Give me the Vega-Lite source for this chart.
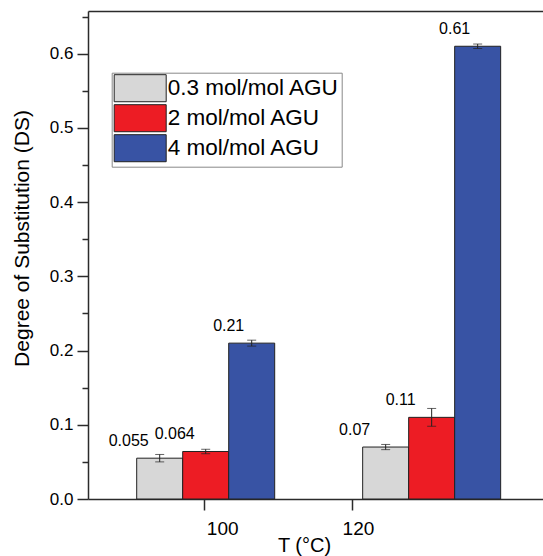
{
  "$schema": "https://vega.github.io/schema/vega-lite/v6.json",
  "width": 455,
  "height": 488,
  "autosize": {"type": "none"},
  "padding": {"left": 88, "top": 11, "right": 0, "bottom": 57},
  "background": "white",
  "config": {
    "view": {"stroke": null},
    "font": "Liberation Sans",
    "axis": {"labelFont": "Liberation Sans", "titleFont": "Liberation Sans", "labelColor": "black", "titleColor": "black", "titleFontWeight": "normal", "domainColor": "#2b2b2b", "tickColor": "#2b2b2b", "domainWidth": 1.5, "tickWidth": 1.5, "grid": false}
  },
  "data": {
    "values": [
      {"T": 100.2, "series": "0.3 mol/mol AGU", "DS": 0.055, "err": 0.005},
      {"T": 100.2, "series": "2 mol/mol AGU", "DS": 0.064, "err": 0.003},
      {"T": 100.2, "series": "4 mol/mol AGU", "DS": 0.21, "err": 0.004},
      {"T": 130.8, "series": "0.3 mol/mol AGU", "DS": 0.07, "err": 0.0035},
      {"T": 130.8, "series": "2 mol/mol AGU", "DS": 0.11, "err": 0.012},
      {"T": 130.8, "series": "4 mol/mol AGU", "DS": 0.61, "err": 0.003}
    ]
  },
  "transform": [
    {"calculate": "datum.DS - datum.err", "as": "lo"},
    {"calculate": "datum.DS + datum.err", "as": "hi"}
  ],
  "layer": [
    {
      "mark": {"type": "bar", "width": 46, "stroke": "#222", "strokeWidth": 1, "xOffset": {"expr": "(indexof(['0.3 mol/mol AGU','2 mol/mol AGU','4 mol/mol AGU'], datum.series) - 1) * 46"}},
      "encoding": {
        "x": {"field": "T", "type": "quantitative", "scale": {"domain": [84.94, 145.2], "nice": false, "zero": false},
          "axis": {"values": [100, 120], "title": "T (°C)", "titleFontSize": 20, "titleX": 216, "titleY": 52, "titleBaseline": "alphabetic", "labelFontSize": 19, "tickSize": 11, "labelPadding": 9, "labelFlush": false,
            "labelOffset": {"condition": {"test": "datum.value === 100", "value": 18}, "value": 6}}},
        "y": {"field": "DS", "type": "quantitative", "stack": null, "scale": {"domain": [0, 0.6575], "nice": false},
          "axis": {"values": [0, 0.1, 0.2, 0.3, 0.4, 0.5, 0.6], "format": ".1f", "title": "Degree of Substitution (DS)", "titleFontSize": 21, "titleX": -66, "titleY": 227, "titleAngle": -90, "titleBaseline": "middle", "titleAlign": "center", "labelFontSize": 17, "tickSize": 11, "labelPadding": 4}},
        "color": {"field": "series", "type": "nominal", "sort": ["0.3 mol/mol AGU", "2 mol/mol AGU", "4 mol/mol AGU"],
          "scale": {"domain": ["0.3 mol/mol AGU", "2 mol/mol AGU", "4 mol/mol AGU"], "range": ["#d7d7d7", "#ed1c24", "#3853a4"]},
          "legend": {"title": null, "orient": "none", "legendX": 23.7, "legendY": 61.7, "symbolType": "M-2,-1.04H2V1.04H-2Z", "symbolSize": 676, "symbolOffset": 13, "symbolStrokeColor": "#222", "symbolStrokeWidth": 1, "symbolOpacity": 1, "labelFont": "Liberation Sans", "labelFontSize": 22.5, "labelColor": "black", "labelOffset": 14, "rowPadding": -12, "padding": 2, "strokeColor": "#888", "fillColor": "white", "labelLimit": 400}}
      }
    },
    {
      "mark": {"type": "rule", "color": "#222", "strokeWidth": 1, "xOffset": {"expr": "(indexof(['0.3 mol/mol AGU','2 mol/mol AGU','4 mol/mol AGU'], datum.series) - 1) * 46"}},
      "encoding": {
        "y": {"field": "lo", "type": "quantitative", "scale": {"domain": [0, 0.6575], "nice": false},
          "axis": {"orient": "left", "values": [0.05, 0.15, 0.25, 0.35, 0.45, 0.55, 0.65], "labels": false, "title": null, "domain": false, "tickSize": 6}},
        "y2": {"field": "hi"},
        "x": {"field": "T", "type": "quantitative", "scale": {"domain": [84.94, 145.2], "nice": false, "zero": false},
          "axis": {"orient": "top", "labels": false, "ticks": false, "title": null}}
      }
    },
    {
      "mark": {"type": "tick", "orient": "horizontal", "color": "#222", "size": 9, "thickness": 1, "xOffset": {"expr": "(indexof(['0.3 mol/mol AGU','2 mol/mol AGU','4 mol/mol AGU'], datum.series) - 1) * 46"}},
      "encoding": {"y": {"field": "lo", "type": "quantitative", "axis": null}, "x": {"field": "T", "type": "quantitative", "axis": null}}
    },
    {
      "mark": {"type": "tick", "orient": "horizontal", "color": "#222", "size": 9, "thickness": 1, "xOffset": {"expr": "(indexof(['0.3 mol/mol AGU','2 mol/mol AGU','4 mol/mol AGU'], datum.series) - 1) * 46"}},
      "encoding": {"y": {"field": "hi", "type": "quantitative", "axis": null}, "x": {"field": "T", "type": "quantitative", "axis": null}}
    },
    {
      "mark": {"type": "text", "baseline": "bottom", "align": "center", "dy": -9, "fontSize": 16, "font": "Liberation Sans", "color": "black",
        "dx": {"expr": "datum.series === '4 mol/mol AGU' ? -23 : -31"},
        "xOffset": {"expr": "(indexof(['0.3 mol/mol AGU','2 mol/mol AGU','4 mol/mol AGU'], datum.series) - 1) * 46"}},
      "encoding": {"y": {"field": "DS", "type": "quantitative", "axis": null}, "x": {"field": "T", "type": "quantitative", "axis": null}, "text": {"field": "DS", "type": "quantitative"}}
    }
  ],
  "resolve": {"axis": {"x": "independent", "y": "independent"}}
}
